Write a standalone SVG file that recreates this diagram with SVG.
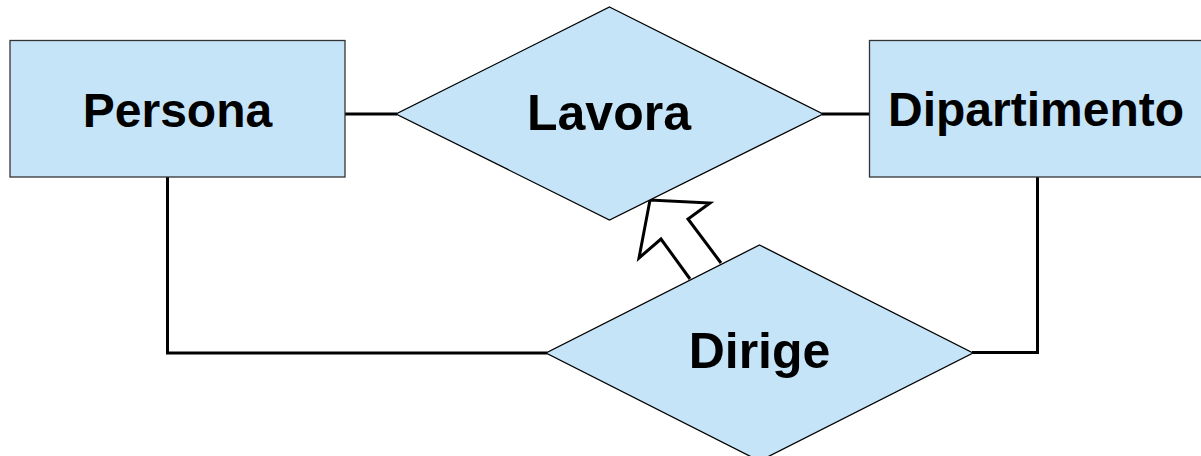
<svg xmlns="http://www.w3.org/2000/svg" width="1201" height="456" viewBox="0 0 1201 456">
<style>
.ent{fill:#c6e4f8;stroke:#333;stroke-width:1.3}
.rel{fill:#c6e4f8;stroke:#000;stroke-width:1.3}
.lbl{font-family:"Liberation Sans",Arial,sans-serif;font-weight:bold;font-size:48px;fill:#000;text-anchor:middle}
.big{font-size:50px}
.con{fill:none;stroke:#000;stroke-width:3}
</style>
<rect width="1201" height="456" fill="#fff"/>
<g id="connectors">
<line class="con" x1="345" y1="114" x2="397" y2="114"/>
<line class="con" x1="822" y1="114" x2="869" y2="114"/>
<polyline class="con" points="167.5,177 167.5,353 547,353"/>
<polyline class="con" points="1037.5,177 1037.5,352.5 972,352.5"/>
<polyline class="con" points="690,279 661,239 639,258 650,200 710,203 688,219 721,263" fill="#fff" stroke-linejoin="miter"/>
</g>
<g id="persona">
<rect class="ent" x="10" y="40.5" width="335" height="136.5"/>
<text class="lbl" x="177.5" y="127">Persona</text>
</g>
<g id="dipartimento">
<rect class="ent" x="869.5" y="40.5" width="335" height="136.5"/>
<text class="lbl" x="1036" y="126">Dipartimento</text>
</g>
<g id="lavora">
<polygon class="rel" points="609.5,7 823,114 609.5,220 396,114"/>
<text class="lbl big" x="609" y="130">Lavora</text>
</g>
<g id="dirige">
<polygon class="rel" points="759.5,245 973,353 759.5,461 546,353"/>
<text class="lbl big" x="759.5" y="368">Dirige</text>
</g>
</svg>
